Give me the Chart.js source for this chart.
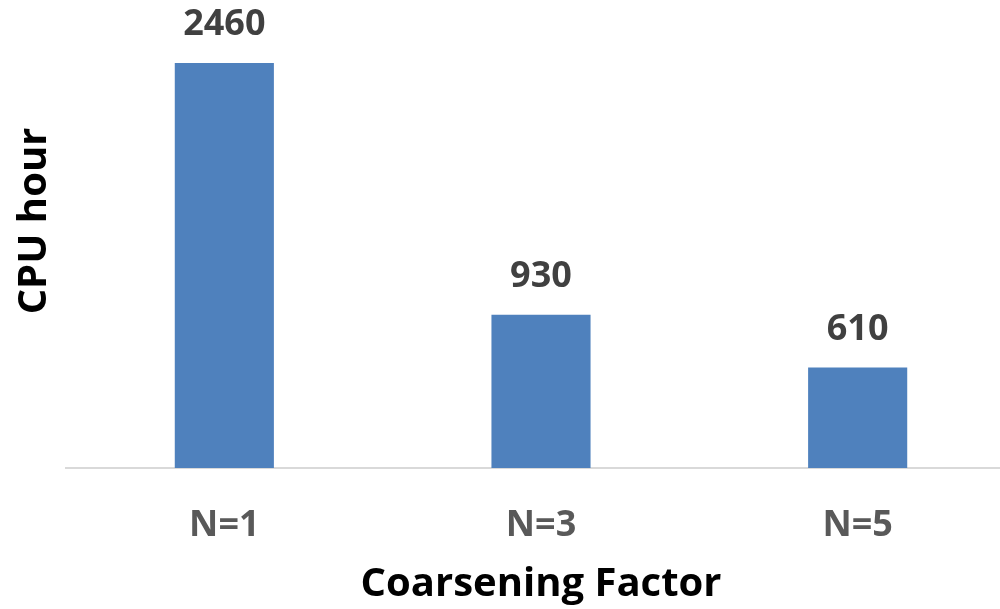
<!DOCTYPE html>
<html>
<head>
<meta charset="utf-8">
<script src="https://cdn.jsdelivr.net/npm/chart.js@4.4.1/dist/chart.umd.min.js"></script>
<style>
  html, body { margin: 0; padding: 0; background: #fff; overflow: hidden; }
  #wrap { width: 1000px; height: 609px; overflow: hidden; position: relative; }
  /* axis range goes to 3000; its top lies above the visible frame */
  #cpuChart { position: absolute; left: 0; top: -26px; }
</style>
</head>
<body>
<div id="wrap"><canvas id="cpuChart" width="1016" height="635"></canvas></div>
<script>
// CPU hours per coarsening factor
const factors = ['N=1', 'N=3', 'N=5'];
const cpuHours = [2460, 930, 610];

const FONT = "'Open Sans', sans-serif";

// value labels above each bar
const barValueLabels = {
    id: 'barValueLabels',
    afterDatasetsDraw(chart) {
        const ctx = chart.ctx;
        const meta = chart.getDatasetMeta(0);
        ctx.save();
        ctx.font = `bold 36px ${FONT}`;
        ctx.fillStyle = '#404040';
        ctx.textAlign = 'center';
        ctx.textBaseline = 'middle';
        meta.data.forEach((bar, i) => {
            ctx.fillText(String(cpuHours[i]), bar.x, bar.y - 38);
        });
        ctx.restore();
    }
};

new Chart(document.getElementById('cpuChart'), {
    type: 'bar',
    data: {
        labels: factors,
        datasets: [{
            data: cpuHours,
            backgroundColor: '#4f81bd',
            borderWidth: 0,
            barPercentage: 1,
            categoryPercentage: 0.313,
        }]
    },
    options: {
        responsive: false,
        animation: false,
        layout: { padding: { left: 11, top: 0, right: 0, bottom: 0 } },
        plugins: {
            legend: { display: false },
            tooltip: { enabled: false },
        },
        scales: {
            x: {
                grid: { display: false },
                border: { display: true, color: '#d9d9d9', width: 2 },
                ticks: {
                    color: '#595959',
                    padding: 28,
                    font: { family: FONT, size: 36, weight: 'bold' },
                },
                title: {
                    display: true,
                    text: 'Coarsening Factor',
                    color: '#000',
                    font: { family: FONT, size: 40, weight: 'bold' },
                    padding: { top: 0, bottom: 0 },
                },
                afterFit: scale => { scale.height = 141; },
            },
            y: {
                min: 0,
                max: 3000,
                grid: { display: false },
                border: { display: false },
                ticks: { display: false },
                title: {
                    display: true,
                    text: 'CPU hour',
                    color: '#000',
                    font: { family: FONT, size: 40, weight: 'bold' },
                    padding: 0,
                },
                afterFit: scale => { scale.width = 55; },
            }
        }
    },
    plugins: [barValueLabels]
});
</script>
</body>
</html>
